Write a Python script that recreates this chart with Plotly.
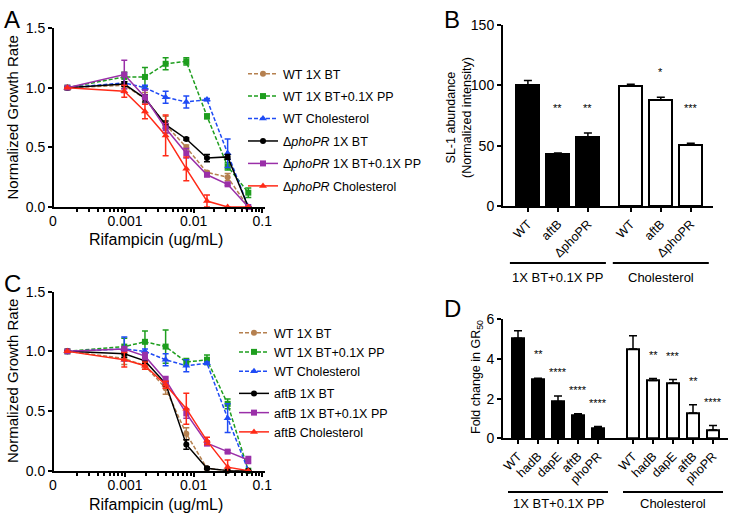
import plotly.graph_objects as go

# ---------------- data ----------------
# rifampicin dilution series (ug/mL); 0 = no drug
CONC = [0, 0.0009766, 0.001953, 0.003906, 0.007813, 0.015625, 0.03125, 0.0625]

# panel A: WT vs phoPR mutant
A_NAMES = ['WT 1X BT', 'WT 1X BT+0.1X PP', 'WT Cholesterol',
           '\u0394<i>phoPR</i> 1X BT', '\u0394<i>phoPR</i> 1X BT+0.1X PP', '\u0394<i>phoPR</i> Cholesterol']
A_VALS = [
    [1.0, 1.02, 0.91, 0.69, 0.50, 0.29, 0.25, 0.0],
    [1.0, 1.09, 1.09, 1.20, 1.22, 0.76, 0.34, 0.12],
    [1.0, 1.04, 1.00, 0.92, 0.88, 0.90, 0.45, 0.0],
    [1.0, 1.03, 0.91, 0.69, 0.57, 0.41, 0.42, 0.0],
    [1.0, 1.11, 0.92, 0.66, 0.45, 0.27, 0.19, 0.0],
    [1.0, 0.97, 0.80, 0.60, 0.32, 0.05, 0.0, 0.0],
]
A_ERRS = [
    [0, 0.03, 0.05, 0.07, 0.02, 0.01, 0.03, 0],
    [0, 0.04, 0.08, 0.05, 0.03, 0.02, 0.03, 0.04],
    [0, 0.08, 0.02, 0.05, 0.05, 0.01, 0.12, 0],
    [0, 0.02, 0.03, 0.03, 0.01, 0.03, 0.02, 0],
    [0, 0.12, 0.06, 0.04, 0.04, 0.01, 0.01, 0],
    [0, 0.05, 0.06, 0.17, 0.10, 0.05, 0, 0],
]

# panel C: WT vs aftB mutant
C_NAMES = ['WT 1X BT', 'WT 1X BT+0.1X PP', 'WT Cholesterol',
           'aftB 1X BT', 'aftB 1X BT+0.1X PP', 'aftB Cholesterol']
C_VALS = [
    [1.0, 0.94, 0.88, 0.69, 0.31, 0.02, 0.0, 0.0],
    [1.0, 1.04, 1.08, 1.04, 0.91, 0.93, 0.56, 0.0],
    [1.0, 1.02, 1.00, 0.93, 0.88, 0.90, 0.44, 0.0],
    [1.0, 0.98, 0.92, 0.73, 0.22, 0.02, 0.0, 0.0],
    [1.0, 1.02, 0.96, 0.76, 0.48, 0.23, 0.16, 0.09],
    [1.0, 0.93, 0.88, 0.72, 0.52, 0.25, 0.03, 0.0],
]
C_ERRS = [
    [0, 0.05, 0.03, 0.05, 0.05, 0.01, 0, 0],
    [0, 0.07, 0.09, 0.14, 0.03, 0.04, 0.04, 0],
    [0, 0.10, 0.02, 0.05, 0.05, 0.01, 0.12, 0],
    [0, 0.03, 0.02, 0.02, 0.04, 0.01, 0, 0],
    [0, 0.02, 0.03, 0.03, 0.04, 0.02, 0.01, 0.03],
    [0, 0.06, 0.03, 0.03, 0.13, 0.03, 0.06, 0],
]

# panel B: SL-1 abundance
B_GROUPS = ['1X BT+0.1X PP', 'Cholesterol']
B_STRAINS = ['WT', 'aftB', '\u0394phoPR']
B_VALS = [[100, 43.5, 57], [99.5, 88, 50.5]]
B_ERRS = [[4, 0.5, 3.5], [1.5, 2.2, 1.5]]
B_STARS = [['', '**', '**'], ['', '*', '***']]

# panel D: fold change in GR50
D_GROUPS = ['1X BT+0.1X PP', 'Cholesterol']
D_STRAINS = ['WT', 'hadB', 'dapE', 'aftB', 'phoPR']
D_VALS = [[5.04, 2.99, 1.86, 1.16, 0.52], [4.5, 2.92, 2.79, 1.28, 0.42]]
D_ERRS = [[0.38, 0.04, 0.27, 0.08, 0.07], [0.67, 0.10, 0.18, 0.41, 0.22]]
D_STARS = [['', '**', '****', '****', '****'], ['', '**', '***', '**', '****']]

# ---------------- style ----------------
FONT = 'Liberation Sans, Arial, sans-serif'
COLORS = ['#B5804F', '#1E9E1E', '#1F4BF5', '#000000', '#9A2FA8', '#FF2A17']
SYMBOLS = ['circle', 'square', 'triangle-up'] * 2
DASHES = ['4px,2px'] * 3 + ['solid'] * 3
W, H = 731, 516

ZERO_POS = 1.45e-4          # where the 0 dose sits on the log axis
X_RANGE = [-4.034, -0.961]  # log10 range of the rifampicin axis


def px_x(a, b):
    return [a / W, b / W]


def px_y(top, bottom):
    return [1 - bottom / H, 1 - top / H]


def tfont(size):
    return dict(size=size, family=FONT, color='black')


def paper_text(text, x, y, size, angle=0, xanchor='center', yanchor='middle'):
    fig.add_annotation(x=x / W, y=1 - y / H, xref='paper', yref='paper', text=text,
                       showarrow=False, textangle=angle, font=tfont(size),
                       xanchor=xanchor, yanchor=yanchor)


fig = go.Figure()


def add_growth(names, vals, errs, xa, ya, legend, per_trace_group):
    xs = [ZERO_POS if c == 0 else c for c in CONC]
    for i, name in enumerate(names):
        group = legend + (str(i) if per_trace_group else ('wt' if i < 3 else 'mut'))
        fig.add_trace(go.Scatter(
            x=xs, y=vals[i],
            mode='lines+markers',
            name=name,
            line=dict(color=COLORS[i], width=1.5, dash=DASHES[i]),
            marker=dict(symbol=SYMBOLS[i], color=COLORS[i], size=7 if i % 3 == 2 else 6),
            error_y=dict(type='data', array=errs[i], color=COLORS[i], thickness=1.5, width=3),
            xaxis=xa, yaxis=ya,
            legend=legend,
            legendgroup=group,
            cliponaxis=False,
        ))


add_growth(A_NAMES, A_VALS, A_ERRS, 'x', 'y', 'legend', True)
add_growth(C_NAMES, C_VALS, C_ERRS, 'x2', 'y2', 'legend2', False)


def add_bars(vals, errs, stars, groups, xa, ya, gap, width, star_off, star_floor,
             line_half, line_y, text_y):
    n = len(vals[0])
    tickpos = []
    for g, gv in enumerate(vals):
        pos = [i + g * (n + gap) for i in range(n)]
        tickpos += pos
        fill = 'black' if g == 0 else 'white'
        fig.add_trace(go.Bar(
            x=pos, y=gv, width=width,
            marker=dict(color=fill, line=dict(color='black', width=2)),
            error_y=dict(type='data', array=errs[g], arrayminus=[0] * n, symmetric=False,
                         color='black', thickness=1.5, width=4),
            xaxis=xa, yaxis=ya, showlegend=False,
        ))
        for i in range(n):
            if stars[g][i]:
                top = gv[i] + errs[g][i]
                fig.add_annotation(x=pos[i], y=max(top + star_off, star_floor), text=stars[g][i],
                                   xref=xa, yref=ya, showarrow=False, yanchor='middle',
                                   font=tfont(11))
        centre = (pos[0] + pos[-1]) / 2
        fig.add_shape(type='line', xref=xa, yref='paper',
                      x0=centre - line_half, x1=centre + line_half, y0=line_y, y1=line_y,
                      line=dict(color='black', width=2))
        fig.add_annotation(x=centre, y=text_y, xref=xa, yref='paper', text=groups[g],
                           showarrow=False, yanchor='middle', font=tfont(13))
    return tickpos


b_ticks = add_bars(B_VALS, B_ERRS, B_STARS, B_GROUPS, 'x3', 'y3', 0.43, 0.77, 21, 81,
                   1.6, 1 - 263 / H, 1 - 277 / H)
d_ticks = add_bars(D_VALS, D_ERRS, D_STARS, D_GROUPS, 'x4', 'y4', 0.75, 0.63, 1.2, 0,
                   2.5, 1 - 492 / H, 1 - 503 / H)

axis_common = dict(showline=True, linecolor='black', linewidth=2, ticks='outside',
                   ticklen=4, tickwidth=2, tickcolor='black', showgrid=False, zeroline=False,
                   automargin=False)

minor_vals = [m * 10 ** e for e in (-4, -3, -2) for m in range(2, 10)]
log_axis = dict(type='log', range=X_RANGE,
                tickvals=[1e-3, 1e-2, 1e-1],
                ticktext=['0.001', '0.01', '0.1'],
                ticklabelstandoff=-4,
                minor=dict(tickmode='array', tickvals=minor_vals, ticks='outside', ticklen=3,
                           tickwidth=1.5, tickcolor='black', showgrid=False),
                tickfont=tfont(14),
                **axis_common)
growth_y = dict(range=[0, 1.5], tickvals=[0, 0.5, 1.0, 1.5], tickformat='.1f',
                tickfont=tfont(14), **axis_common)

bar_x = dict(tickangle=-45, tickfont=tfont(12.5), **axis_common)

fig.update_layout(
    width=W, height=H,
    margin=dict(l=0, r=0, t=0, b=0),
    paper_bgcolor='white', plot_bgcolor='white',
    font=dict(family=FONT, color='black'),
    bargap=0,
    xaxis=dict(domain=px_x(54, 265), anchor='y', **log_axis),
    yaxis=dict(domain=px_y(28, 207), anchor='x', **growth_y),
    xaxis2=dict(domain=px_x(54, 265), anchor='y2', **log_axis),
    yaxis2=dict(domain=px_y(291.7, 470.7), anchor='x2', **growth_y),
    xaxis3=dict(domain=px_x(503, 713), anchor='y3', range=[-0.83, 6.17],
                tickvals=b_ticks, ticktext=B_STRAINS * 2, **bar_x),
    yaxis3=dict(domain=px_y(25, 206), anchor='x3', range=[0, 150], tickvals=[0, 50, 100, 150],
                tickfont=tfont(14), **axis_common),
    xaxis4=dict(domain=px_x(503, 728), anchor='y4', range=[-0.75, 10.5],
                tickvals=d_ticks, ticktext=D_STRAINS * 2, **bar_x),
    yaxis4=dict(domain=px_y(319.3, 438.3), anchor='x4', range=[0, 6], tickvals=[0, 2, 4, 6],
                tickfont=tfont(14), **axis_common),
    legend=dict(x=243 / W, y=1 - 59 / H, xanchor='left', yanchor='top', itemwidth=30,
                bgcolor='rgba(0,0,0,0)', tracegroupgap=3.2, font=tfont(12.5)),
    legend2=dict(x=234 / W, y=1 - 318 / H, xanchor='left', yanchor='top', itemwidth=30,
                 bgcolor='rgba(0,0,0,0)', tracegroupgap=3, font=tfont(12.5)),
)

# the "0" at the start of the broken log axis (no-drug point)
for yc in (221, 485):
    paper_text('0', 53, yc, 14)

# axis titles
for yc in (117.5, 381):
    paper_text('Normalized Growth Rate', 12, yc, 15, angle=-90)
for yc in (240, 504):
    paper_text('Rifampicin (ug/mL)', 156, yc, 16)
paper_text('SL-1 abundance<br>(Normalized intensity)', 459, 118, 12.5, angle=-90)
paper_text('Fold change in GR<sub>50</sub>', 477, 377, 12.5, angle=-90)

# panel letters
for letter, lx, ly in [('A', 2, 4), ('B', 442, 4), ('C', 2, 268), ('D', 442, 293)]:
    paper_text(letter, lx, ly, 24, xanchor='left', yanchor='top')

# the page body has a default 8px margin; drop it so the figure sits at the corner
fig.write_html('out.html', config={'displayModeBar': False},
               post_script="document.body.style.margin='0';")
